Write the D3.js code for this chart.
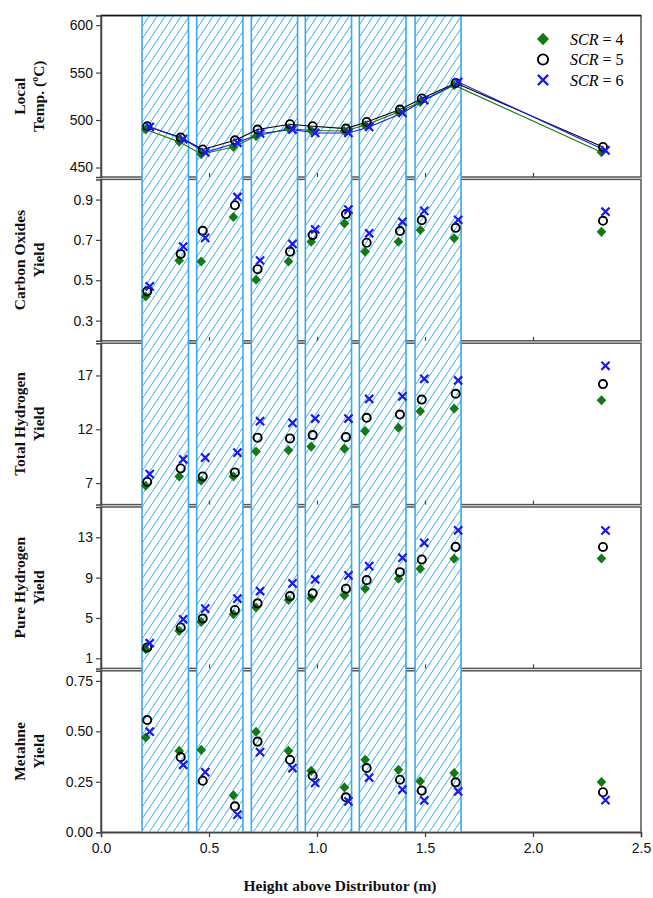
<!DOCTYPE html>
<html><head><meta charset="utf-8">
<script src="https://cdn.jsdelivr.net/npm/d3@7/dist/d3.min.js"></script>
<style>
html,body{margin:0;padding:0;background:#fff;}
svg{display:block;}
</style></head>
<body>
<svg id="chart" width="653" height="898"></svg>
<script>
// ---------- data ----------
const heights = [0.214,0.369,0.471,0.620,0.725,0.875,0.980,1.134,1.230,1.384,1.485,1.642,2.324];
const zoneStarts = [0.19,0.443,0.696,0.946,1.196,1.454];
const zoneEnds   = [0.405,0.657,0.91,1.16,1.412,1.667];
const seriesNames = ["4","5","6"];

const tempSCR4 = [490,477,464,471.6,483,491,489,488.5,494.5,508.5,519,536.7,466];
const tempSCR5 = [493.5,481.5,469,478.7,490,495.6,493.5,491,498,511,522.7,539,471.6];
const tempSCR6 = [492.7,480,466,476,485.8,490,486.4,486.4,492.7,507.5,521,540,468];

const coSCR4 = [0.42,0.598,0.593,0.814,0.503,0.593,0.691,0.782,0.642,0.691,0.749,0.708,0.74];
const coSCR5 = [0.445,0.63,0.745,0.872,0.555,0.642,0.724,0.828,0.686,0.744,0.798,0.76,0.795];
const coSCR6 = [0.47,0.667,0.71,0.913,0.598,0.68,0.752,0.85,0.733,0.79,0.844,0.80,0.84];

const thSCR4 = [6.75,7.62,7.21,7.62,9.93,10.05,10.39,10.2,11.83,12.14,13.68,13.92,14.7];
const thSCR5 = [7.12,8.36,7.62,7.99,11.22,11.15,11.46,11.27,13.07,13.37,14.76,15.3,16.2];
const thSCR6 = [7.83,9.21,9.37,9.83,12.75,12.6,13.0,13.0,14.82,15.06,16.69,16.54,17.9];

const phSCR4 = [1.91,3.72,4.61,5.37,6.03,6.78,6.95,7.24,7.9,8.89,9.88,10.87,10.9];
const phSCR5 = [2.08,4.06,4.94,5.79,6.45,7.17,7.44,7.9,8.75,9.54,10.8,12.05,12.04];
const phSCR6 = [2.5,4.87,5.93,6.92,7.67,8.43,8.82,9.22,10.14,10.97,12.45,13.69,13.67];

const meSCR4 = [0.469,0.403,0.408,0.183,0.498,0.403,0.304,0.222,0.359,0.309,0.252,0.293,0.249];
const meSCR5 = [0.556,0.372,0.255,0.128,0.449,0.359,0.28,0.173,0.318,0.26,0.206,0.247,0.198];
const meSCR6 = [0.498,0.334,0.298,0.087,0.397,0.318,0.244,0.153,0.271,0.211,0.158,0.202,0.159];

const xTicks = [0,0.5,1.0,1.5,2.0,2.5];
const tempTicks = [450,500,550,600];
const coTicks = [0.3,0.5,0.7,0.9];
const thTicks = [7,12,17];
const phTicks = [1,5,9,13];
const meTicks = [0,0.25,0.5,0.75];

const panelTitles = [["Local","Temp. (°C)"],["Carbon Oxides","Yield"],["Total Hydrogen","Yield"],["Pure Hydrogen","Yield"],["Metahne","Yield"]];
const xTitle = "Height above Distributor (m)";

// ---------- layout ----------
const panels = [
  {domain:[440,610], ticks:tempTicks, fmt:d3.format("d"), series:[tempSCR4,tempSCR5,tempSCR6], lines:true},
  {domain:[0.2,1.0], ticks:coTicks, fmt:d3.format(".1f"), series:[coSCR4,coSCR5,coSCR6]},
  {domain:[5,20], ticks:thTicks, fmt:d3.format("d"), series:[thSCR4,thSCR5,thSCR6]},
  {domain:[0,16], ticks:phTicks, fmt:d3.format("d"), series:[phSCR4,phSCR5,phSCR6]},
  {domain:[0,0.8], ticks:meTicks, fmt:d3.format(".2f"), series:[meSCR4,meSCR5,meSCR6]}
];
const left = 101, right = 641;
const top0 = 15.6, step = 163.8, ph = 161.4;
const colors = ["#137a13","#000000","#1a1aee"];
const dodge = [-1.5, 0, 2.5];

const svg = d3.select("#chart");
const x = d3.scaleLinear().domain([0,2.5]).range([left,right]);

// hatch pattern
const defs = svg.append("defs");
const pat = defs.append("pattern").attr("id","hatch").attr("patternUnits","userSpaceOnUse")
  .attr("width",8).attr("height",12);
pat.append("rect").attr("width",8).attr("height",12).attr("fill","#fff");
pat.append("path").attr("d","M-1,13.5 L9,-1.5").attr("stroke","#5cbcf5").attr("stroke-width",1.1);

panels.forEach((p,i)=>{
  p.top = top0 + i*step;
  p.bottom = p.top + ph;
  p.y = d3.scaleLinear().domain(p.domain).range([p.bottom,p.top]);
});

// frames
panels.forEach((p,i)=>{
  svg.append("rect").attr("x",left).attr("y",p.top).attr("width",right-left).attr("height",ph)
    .attr("fill","#fff").attr("stroke","#555").attr("stroke-width",1.5);
});

// hatched zones
const zTop = panels[0].top, zBot = panels[4].bottom;
svg.append("g").selectAll("rect").data(d3.range(zoneStarts.length)).join("rect")
  .attr("x",i=>x(zoneStarts[i])).attr("width",i=>x(zoneEnds[i])-x(zoneStarts[i]))
  .attr("y",zTop).attr("height",zBot-zTop)
  .attr("fill","url(#hatch)").attr("stroke","#3aaaf0").attr("stroke-width",1.6);

// top border of first panel
svg.append("line").attr("x1",left).attr("x2",right).attr("y1",zTop).attr("y2",zTop)
  .attr("stroke","#111").attr("stroke-width",1.5);

// axes
panels.forEach((p,i)=>{
  const ya = svg.append("g").attr("transform",`translate(${left},0)`)
    .call(d3.axisLeft(p.y).tickValues(p.ticks).tickFormat(p.fmt).tickSize(5).tickPadding(3));
  ya.select(".domain").attr("stroke","#444").attr("stroke-width",1.5);
  ya.selectAll(".tick line").attr("stroke","#444").attr("stroke-width",1.2);
  ya.selectAll("text").attr("font-family","Liberation Sans, Arial, sans-serif").attr("font-size",14).attr("fill","#111");
  if(i<4){
    const xa = svg.append("g").attr("transform",`translate(0,${p.bottom})`)
      .call(d3.axisTop(x).tickValues(xTicks.slice(1,5)).tickSize(4).tickFormat(""));
    xa.select(".domain").remove();
    xa.selectAll(".tick line").attr("stroke","#444").attr("stroke-width",1.2);
  } else {
    const xa = svg.append("g").attr("transform",`translate(0,${p.bottom})`)
      .call(d3.axisBottom(x).tickValues(xTicks).tickSize(5).tickPadding(6).tickFormat(d3.format(".1f")));
    xa.select(".domain").attr("stroke","#444").attr("stroke-width",1.5);
    xa.selectAll(".tick line").attr("stroke","#444").attr("stroke-width",1.2);
    xa.selectAll("text").attr("font-family","Liberation Sans, Arial, sans-serif").attr("font-size",14).attr("fill","#111");
  }
});

// marker drawers
function marker(g, k, cx, cy, s){
  if(k===0){
    g.append("path").attr("d",`M${cx},${cy-s*1.05}L${cx+s},${cy}L${cx},${cy+s*1.05}L${cx-s},${cy}Z`)
      .attr("fill",colors[0]);
  } else if(k===1){
    g.append("circle").attr("cx",cx).attr("cy",cy).attr("r",s*0.85)
      .attr("fill","none").attr("stroke",colors[1]).attr("stroke-width",1.9);
  } else {
    const d = s*0.85;
    g.append("path").attr("d",`M${cx-d},${cy-d}L${cx+d},${cy+d}M${cx-d},${cy+d}L${cx+d},${cy-d}`)
      .attr("stroke",colors[2]).attr("stroke-width",2.2).attr("fill","none");
  }
}

// series
panels.forEach((p,i)=>{
  const g = svg.append("g");
  if(p.lines){
    p.series.forEach((s,k)=>{
      const line = d3.line().x((d,j)=>x(heights[j])+dodge[k]).y(d=>p.y(d));
      g.append("path").datum(s).attr("d",line).attr("fill","none")
        .attr("stroke",colors[k]).attr("stroke-width",1.1);
    });
  }
  p.series.forEach((s,k)=>{
    s.forEach((v,j)=>marker(g,k,x(heights[j])+dodge[k],p.y(v),4.8));
  });
});

// legend
const lg = svg.append("g");
seriesNames.forEach((n,k)=>{
  const ly = 39 + k*20.5;
  marker(lg,k,543,ly,6);
  const t = lg.append("text").attr("x",570).attr("y",ly+5.5)
    .attr("font-family","Liberation Serif, Times New Roman, serif").attr("font-size",16);
  t.append("tspan").attr("font-style","italic").text("SCR");
  t.append("tspan").text(" = "+n);
});

// y titles
panels.forEach((p,i)=>{
  const cy = (p.top+p.bottom)/2;
  const lines = panelTitles[i];
  lines.forEach((ln,li)=>{
    const t = svg.append("text")
      .attr("transform",`translate(${li===0?25:43.5},${cy}) rotate(-90)`)
      .attr("text-anchor","middle")
      .attr("font-family","Liberation Serif, Times New Roman, serif")
      .attr("font-weight","bold").attr("font-size",15.5).attr("fill","#111");
    if(ln.indexOf("°")>=0){
      t.append("tspan").text("Temp. (");
      t.append("tspan").attr("font-size",10).attr("dy",-6).text("o");
      t.append("tspan").attr("dy",6).text("C)");
    } else t.text(ln);
  });
});

// x title
svg.append("text").attr("x",340).attr("y",891).attr("text-anchor","middle")
  .attr("font-family","Liberation Serif, Times New Roman, serif")
  .attr("font-weight","bold").attr("font-size",15.5).attr("fill","#111").text(xTitle);
</script>
</body></html>
